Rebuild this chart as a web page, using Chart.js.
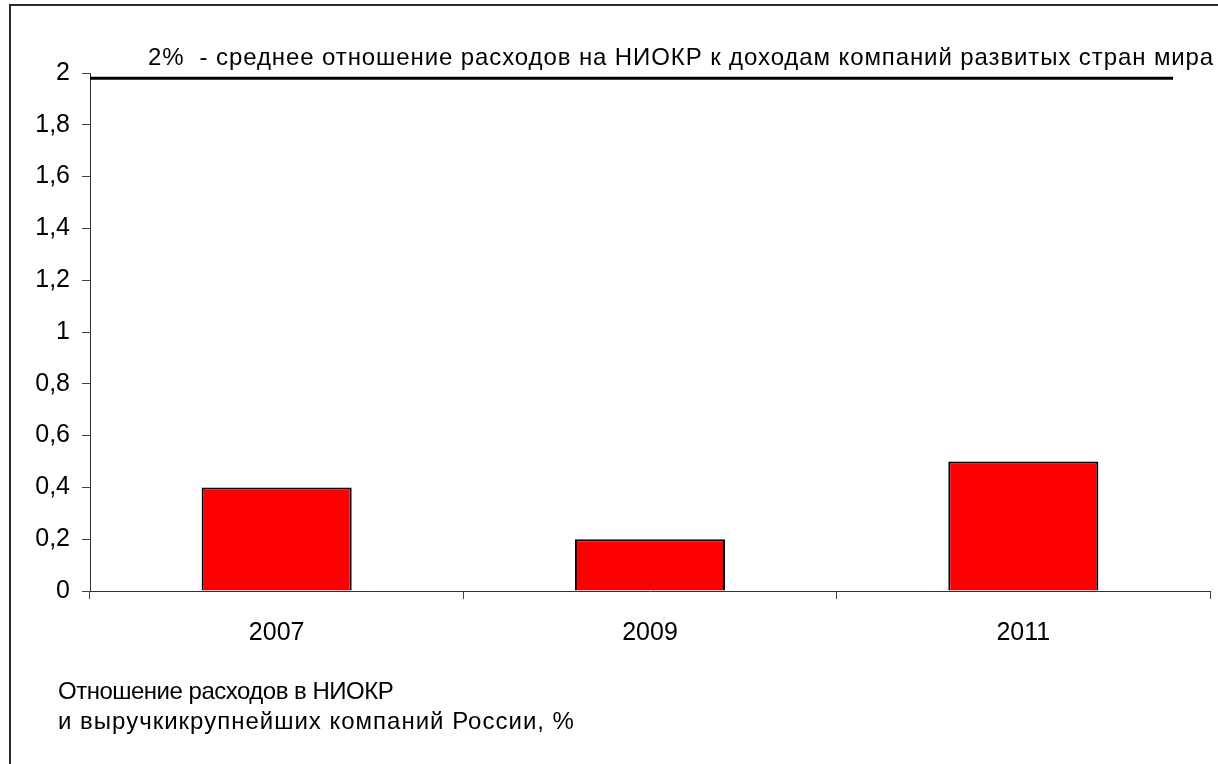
<!DOCTYPE html>
<html>
<head>
<meta charset="utf-8">
<script src="https://cdn.jsdelivr.net/npm/chart.js@4"></script>
<style>
  html, body { margin: 0; padding: 0; background: #fff; }
  #wrap { width: 1218px; height: 764px; position: relative; }
</style>
</head>
<body>
<div id="wrap"><canvas id="chart"></canvas></div>
<script>
// данные
const years = ['2007', '2009', '2011'];
const rdShare = [0.4, 0.2, 0.5];
const benchmark = 1.98;
const benchmarkLabel = '2%  - среднее отношение расходов на НИОКР к доходам компаний развитых стран мира';
const noteLines = ['Отношение расходов в НИОКР', 'и выручкикрупнейших компаний России, %'];

const FONT = '"Liberation Sans", Arial, sans-serif';

// рамка, линия 2% и подписи
const extras = {
    id: 'extras',
    afterDraw(chart) {
        const ctx = chart.ctx;
        const area = chart.chartArea;
        const y = chart.scales.y;
        ctx.save();

        // рамка слева и сверху
        ctx.strokeStyle = '#2a2a2a';
        ctx.lineWidth = 2;
        ctx.beginPath();
        ctx.moveTo(10, chart.height);
        ctx.lineTo(10, 5);
        ctx.lineTo(chart.width, 5);
        ctx.stroke();

        // линия среднего уровня
        const yPix = y.getPixelForValue(benchmark);
        const xEnd = area.left + (area.right - area.left) * 0.967;
        ctx.strokeStyle = '#000';
        ctx.lineWidth = 3;
        ctx.beginPath();
        ctx.moveTo(area.left, yPix);
        ctx.lineTo(xEnd, yPix);
        ctx.stroke();

        ctx.fillStyle = '#000';
        ctx.font = '24px ' + FONT;
        ctx.textAlign = 'left';
        ctx.textBaseline = 'alphabetic';
        ctx.letterSpacing = '0.9px';
        ctx.fillText(benchmarkLabel, area.left + 58, yPix - 13);

        // подпись внизу (у первой строки шрифт в оригинале чуть уже)
        const spacing = ['-0.5px', '1px'];
        noteLines.forEach((line, i) => {
            ctx.letterSpacing = spacing[i] || '0px';
            ctx.fillText(line, 58, 699 + i * 30);
        });
        ctx.restore();
    }
};

new Chart(document.getElementById('chart'), {
    type: 'bar',
    data: {
        labels: years,
        datasets: [{
            data: rdShare,
            backgroundColor: '#ff0000',
            borderColor: '#000',
            borderWidth: 2,
            categoryPercentage: 1,
            barPercentage: 0.402
        }]
    },
    options: {
        responsive: true,
        maintainAspectRatio: false,
        animation: false,
        layout: { padding: { top: 73, right: 8, bottom: 123, left: 0 } },
        plugins: {
            legend: { display: false },
            tooltip: { enabled: false }
        },
        scales: {
            x: {
                offset: true,
                grid: {
                    offset: true,
                    drawOnChartArea: false,
                    drawTicks: true,
                    tickLength: 8,
                    color: '#444'
                },
                border: { color: '#333', width: 1 },
                ticks: {
                    color: '#000',
                    padding: 19,
                    font: { family: FONT, size: 25 }
                },
                afterFit(scale) { scale.height = 50; }
            },
            y: {
                min: 0,
                max: 2,
                grid: {
                    drawOnChartArea: false,
                    drawTicks: true,
                    tickLength: 8,
                    color: '#444'
                },
                border: { color: '#333', width: 1 },
                ticks: {
                    stepSize: 0.2,
                    color: '#000',
                    padding: 12,
                    font: { family: FONT, size: 25 },
                    callback: v => String(Number(v.toFixed(1))).replace('.', ',')
                },
                afterFit(scale) { scale.width = 90; }
            }
        }
    },
    plugins: [extras]
});
</script>
</body>
</html>
